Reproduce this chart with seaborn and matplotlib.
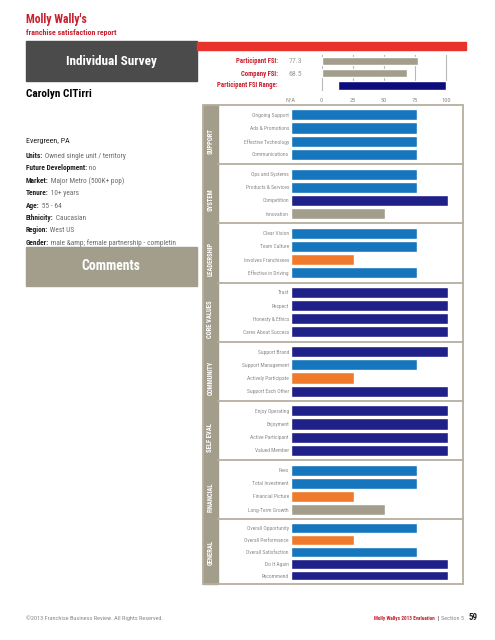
import matplotlib
matplotlib.use("Agg")
import matplotlib.pyplot as plt
import seaborn as sns
from matplotlib.patches import Rectangle

sns.set_style("white")
plt.rcParams["font.family"] = ["Roboto Condensed", "Roboto", "DejaVu Sans"]

W, H = 495, 640

# -------- Data --------
groups = ["SUPPORT", "SYSTEM", "LEADERSHIP", "CORE VALUES", "COMMUNITY", "SELF EVAL", "FINANCIAL", "GENERAL"]

support_items = ["Ongoing Support", "Ads & Promotions", "Effective Technology", "Communications"]
support_scores = [4, 4, 4, 4]
system_items = ["Ops and Systems", "Products & Services", "Competition", "Innovation"]
system_scores = [4, 4, 5, 3]
leadership_items = ["Clear Vision", "Team Culture", "Involves Franchisees", "Effective in Driving"]
leadership_scores = [4, 4, 2, 4]
core_items = ["Trust", "Respect", "Honesty & Ethics", "Cares About Success"]
core_scores = [5, 5, 5, 5]
community_items = ["Support Brand", "Support Management", "Actively Participate", "Support Each Other"]
community_scores = [5, 4, 2, 5]
self_items = ["Enjoy Operating", "Enjoyment", "Active Participant", "Valued Member"]
self_scores = [5, 5, 5, 5]
financial_items = ["Fees", "Total Investment", "Financial Picture", "Long-Term Growth"]
financial_scores = [4, 4, 2, 3]
general_items = ["Overall Opportunity", "Overall Performance", "Overall Satisfaction", "Do It Again", "Recommend"]
general_scores = [4, 2, 4, 5, 5]

fsi_labels = ["Participant FSI:", "Company FSI:", "Participant FSI Range:"]
fsi_values = [77.3, 68.5]
fsi_range = [13, 100]
fsi_ticks = [-25, 0, 25, 50, 75, 100]
fsi_ticklabels = ["N/A", "0", "25", "50", "75", "100"]

info_labels = ["Units:", "Future Development:", "Market:", "Tenure:", "Age:", "Ethnicity:", "Region:", "Gender:"]
info_values = ["Owned single unit / territory", "no", "Major Metro (500K+ pop)", "10+ years", "55 - 64",
               "Caucasian", "West US", "male &amp; female partnership - completin"]

# colours
score_colors = {5: "#1f2088", 4: "#1676bd", 3: "#a39e8c", 2: "#f07a2c"}
TAN = "#a39e8c"
RED = "#c8202f"
FRAME = "#b4af9f"


def box(x0, y0, x1, y1):
    return [x0 / W, 1 - y1 / H, (x1 - x0) / W, (y1 - y0) / H]


fig = plt.figure(figsize=(W / 100, H / 100), dpi=100)

# background axes in pixel coords
bg = fig.add_axes([0, 0, 1, 1])
bg.set_xlim(0, W)
bg.set_ylim(H, 0)
bg.axis("off")

# -------- Header --------
bg.text(26, 19, "Molly Wally's", color=RED, fontsize=8.5, weight="bold", va="center")
bg.text(26, 33, "franchise satisfaction report", color=RED, fontsize=5.7, weight="bold", va="center")
bg.add_patch(Rectangle((26, 41), 171, 40, color="#4b4b4b"))
bg.text(111, 62, "Individual Survey", color="white", fontsize=9.5, weight="bold", ha="center", va="center")
bg.add_patch(Rectangle((197, 42), 269, 8, color="#e8322b"))
bg.text(26, 94, "Carolyn CITirri", color="black", fontsize=8.1, weight="bold", va="center")

bg.text(26, 141, "Evergreen, PA", color="#222222", fontsize=5.8, va="center")
for i, (lab, val) in enumerate(zip(info_labels, info_values)):
    t = bg.text(26, 156 + i * 12.4, lab, color="#222222", fontsize=5.3, weight="bold", va="center")
    bg.annotate(" " + val, xy=(1, 0), xycoords=t, va="bottom", ha="left", color="#6a6a6a", fontsize=5.3)

bg.add_patch(Rectangle((26, 247), 171, 39, color=TAN))
bg.text(111, 266, "Comments", color="white", fontsize=9.9, weight="bold", ha="center", va="center")

# -------- FSI summary --------
for lab, y in zip(fsi_labels, [61, 74, 85]):
    bg.text(278, y, lab, color=RED, fontsize=4.9, weight="bold", ha="right", va="center")
for v, y in zip(fsi_values, [61, 74]):
    bg.text(295, y, f"{v}", color="#9a9a9a", fontsize=5.6, ha="center", va="center")

ax_fsi = fig.add_axes(box(280, 55, 460, 91))
ax_fsi.patch.set_alpha(0)
ax_fsi.vlines([0, 25, 50, 75, 100], -0.8, 2.6, color="#b8b8b8", lw=0.8, zorder=0)
sns.barplot(x=fsi_values, y=fsi_labels[:2], color=TAN, saturation=1, width=0.72, orient="h", ax=ax_fsi)
ax_fsi.barh(2, fsi_range[1] - fsi_range[0], left=fsi_range[0], height=0.75, color="#0c0c7d")
ax_fsi.set_xlim(-33.6, 111.5)
ax_fsi.set_ylim(2.5, -0.5)
ax_fsi.set_yticks([])
ax_fsi.set_xticks(fsi_ticks)
ax_fsi.set_xticklabels(fsi_ticklabels)
ax_fsi.tick_params(axis="x", length=0, pad=5, labelsize=4.6, labelcolor="#8a8a8a")
ax_fsi.set_xlabel("")
ax_fsi.set_ylabel("")
for s in ax_fsi.spines.values():
    s.set_visible(False)

# -------- Main panel --------
items_list = [support_items, system_items, leadership_items, core_items,
              community_items, self_items, financial_items, general_items]
scores_list = [support_scores, system_scores, leadership_scores, core_scores,
               community_scores, self_scores, financial_scores, general_scores]
heights = [59.2] * 7 + [65]
label_shift = [6, 6, 6, 6.5, 6, 6.5, 7, 1]

top0 = 105
bg.add_patch(Rectangle((203, top0), 15, sum(heights), color=TAN, zorder=1))
bg.add_patch(Rectangle((203, top0), 260, sum(heights), fill=False, edgecolor=FRAME, lw=1.3, zorder=2))

top = top0
for g, items, scores, h, sh in zip(groups, items_list, scores_list, heights, label_shift):
    ax = fig.add_axes(box(291, top, 463, top + h))
    ax.patch.set_alpha(0)
    cols = [score_colors[s] for s in scores]
    sns.barplot(x=scores, y=items, hue=items, palette=cols, saturation=1, legend=False,
                orient="h", width=0.84, ax=ax)
    n = len(items)
    ax.set_ylim(n - 0.25, -0.75)
    ax.set_xlim(0, 5.48)
    ax.set_xticks([])
    ax.set_xlabel("")
    ax.set_ylabel("")
    ax.tick_params(axis="y", length=0, pad=1.5, labelsize=4.0, labelcolor="#8a8a8a")
    for s in ax.spines.values():
        s.set_visible(False)
    bg.text(210.5, top + h / 2 + sh, g, rotation=90, color="white", fontsize=4.8, weight="bold",
            ha="center", va="center", zorder=3)
    if top > top0:
        bg.plot([218, 463], [top, top], color=FRAME, lw=1.3, zorder=2)
    top += h

# -------- Footer --------
bg.text(26, 620, "\u00a92013 Franchise Business Review. All Rights Reserved.", color="#8a8a8a", fontsize=4.5,
        va="baseline")
bg.text(435, 620, "Molly Wallys 2013 Evaluation", color=RED, fontsize=3.8, weight="bold", ha="right", va="baseline")
bg.text(438, 620, "|", color="#333333", fontsize=4.5, weight="bold", ha="center", va="baseline")
bg.text(441, 620, "Section 5", color="#8a8a8a", fontsize=4.5, ha="left", va="baseline")
bg.text(469, 620, "59", color="#222222", fontsize=6.5, weight="bold", ha="left", va="baseline")

fig.savefig("out.png", dpi=100)
